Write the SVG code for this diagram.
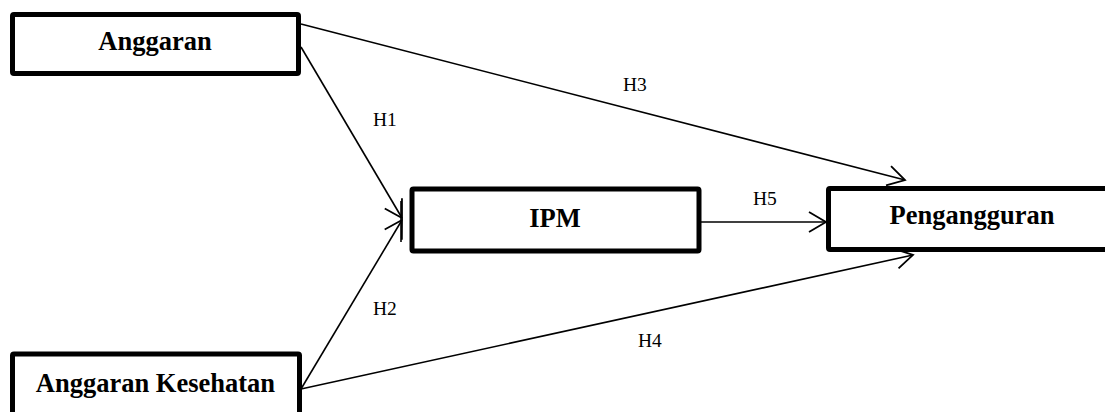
<svg xmlns="http://www.w3.org/2000/svg" width="1105" height="412" viewBox="0 0 1105 412">
<style>
.box{fill:#fff;stroke:#000;stroke-width:5;stroke-linejoin:round}
.lbl{font-family:"Liberation Serif","Times New Roman",serif;font-weight:bold;font-size:26.5px;fill:#000;text-anchor:middle}
.h{font-family:"Liberation Serif","Times New Roman",serif;font-size:19.5px;fill:#000}
.con{stroke:#000;stroke-width:1.6;fill:none;marker-end:url(#arr)}
</style>
<defs>
<marker id="arr" markerUnits="userSpaceOnUse" markerWidth="24" markerHeight="24" viewBox="-20 -12 22 24" refX="0" refY="0" orient="auto">
<path d="M-17,-10 L0,0 L-17,10" fill="none" stroke="#000" stroke-width="1.8" stroke-linejoin="miter"/>
</marker>
</defs>
<rect width="1105" height="412" fill="#fff"/>
<g id="connectors">
<line class="con" x1="301" y1="24" x2="905" y2="180"/>
<line class="con" x1="301" y1="47" x2="402" y2="218"/>
<line class="con" x1="301" y1="389" x2="402" y2="220"/>
<line class="con" x1="301" y1="389" x2="913" y2="255"/>
<line class="con" x1="700" y1="222" x2="826" y2="222"/>
<line x1="401" y1="201" x2="401" y2="242" stroke="#000" stroke-width="1.6"/>
<text class="h" x="373" y="126">H1</text>
<text class="h" x="373" y="315">H2</text>
<text class="h" x="623" y="91">H3</text>
<text class="h" x="638" y="347">H4</text>
<text class="h" x="753" y="205">H5</text>
</g>
<g id="anggaran">
<rect class="box" x="12.5" y="14.5" width="286" height="59" rx="1.5"/>
<text class="lbl" x="155" y="50">Anggaran</text>
</g>
<g id="ipm">
<rect class="box" x="412" y="189" width="287" height="62" rx="1.5"/>
<text class="lbl" x="555" y="227">IPM</text>
</g>
<g id="pengangguran">
<rect class="box" x="828.5" y="188.5" width="290" height="61" rx="1.5"/>
<text class="lbl" x="972" y="224">Pengangguran</text>
</g>
<g id="anggaran-kesehatan">
<rect class="box" x="12.5" y="354" width="287" height="70" rx="1.5"/>
<text class="lbl" x="155.5" y="391.5">Anggaran Kesehatan</text>
</g>
</svg>
